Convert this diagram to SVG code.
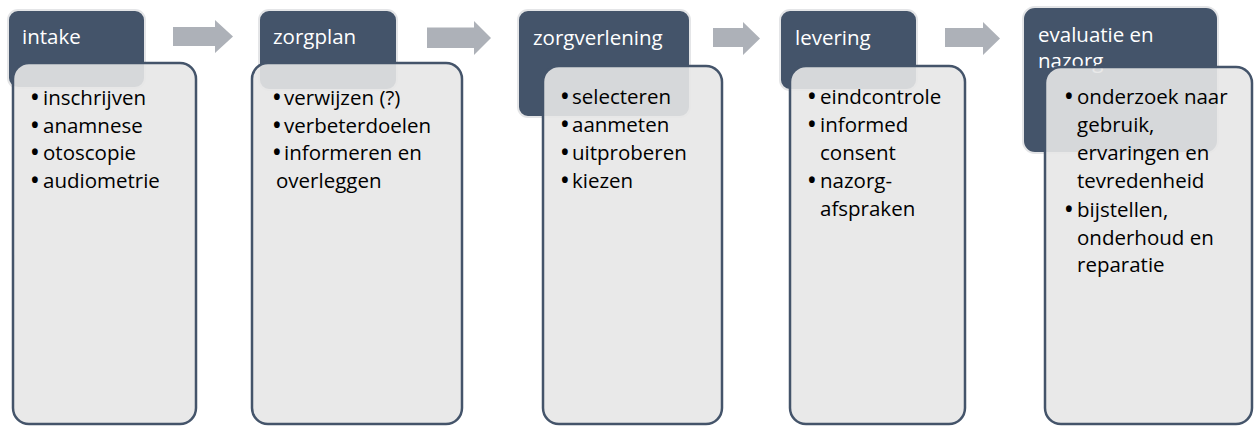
<svg xmlns="http://www.w3.org/2000/svg" width="1254" height="426" viewBox="0 0 1254 426">
  <style>
    .hdr { fill: #44546a; stroke: #e4e5e7; stroke-width: 2; }
    .box { fill: #e7e7e7; fill-opacity: 0.9; stroke: #44546a; stroke-width: 2.5; }
    .arr { fill: #adb1b8; }
    .ht { font-family: "Open Sans", "Liberation Sans", sans-serif; font-size: 20.5px; fill: #ffffff; }
    .bt { font-family: "Open Sans", "Liberation Sans", sans-serif; font-size: 20.5px; fill: #000000; }
    .bl { font-weight: 700; }
  </style>
  <rect width="1254" height="426" fill="#ffffff"/>
  <g id="connectors">
    <polygon class="arr" points="173,27 215,27 215,20 233,36.5 215,53 215,46 173,46"/>
    <polygon class="arr" points="427,27.5 474,27.5 474,21 491,38 474,55 474,48 427,48"/>
    <polygon class="arr" points="713,28 743,28 743,22 760,38.5 743,55 743,47 713,47"/>
    <polygon class="arr" points="945,28 983,28 983,22 1000,38.5 983,55 983,47 945,47"/>
  </g>
  <g id="node-intake">
    <rect class="hdr" x="8" y="10" width="137" height="78" rx="10"/>
    <text class="ht" x="22" y="44">intake</text>
    <rect class="box" x="13" y="63" width="183" height="361" rx="16"/>
    <text class="bt"><tspan class="bl" x="31" y="105">•</tspan><tspan x="43" y="105">inschrijven</tspan><tspan class="bl" x="31" y="133">•</tspan><tspan x="43" y="133">anamnese</tspan><tspan class="bl" x="31" y="160">•</tspan><tspan x="43" y="160">otoscopie</tspan><tspan class="bl" x="31" y="188">•</tspan><tspan x="43" y="188">audiometrie</tspan></text>
  </g>
  <g id="node-zorgplan">
    <rect class="hdr" x="259" y="10" width="138" height="80" rx="10"/>
    <text class="ht" x="273" y="44">zorgplan</text>
    <rect class="box" x="252" y="63" width="210" height="361" rx="16"/>
    <text class="bt"><tspan class="bl" x="273" y="105">•</tspan><tspan x="284" y="105">verwijzen (?)</tspan><tspan class="bl" x="273" y="133">•</tspan><tspan x="284" y="133">verbeterdoelen</tspan><tspan class="bl" x="273" y="160">•</tspan><tspan x="284" y="160">informeren en</tspan><tspan x="276" y="188">overleggen</tspan></text>
  </g>
  <g id="node-zorgverlening">
    <rect class="hdr" x="518" y="10" width="172" height="107" rx="10"/>
    <text class="ht" x="533" y="45">zorgverlening</text>
    <rect class="box" x="543" y="66" width="179" height="358" rx="16"/>
    <text class="bt"><tspan class="bl" x="561" y="104">•</tspan><tspan x="572" y="104">selecteren</tspan><tspan class="bl" x="561" y="132">•</tspan><tspan x="572" y="132">aanmeten</tspan><tspan class="bl" x="561" y="160">•</tspan><tspan x="572" y="160">uitproberen</tspan><tspan class="bl" x="561" y="188">•</tspan><tspan x="572" y="188">kiezen</tspan></text>
  </g>
  <g id="node-levering">
    <rect class="hdr" x="780" y="10" width="137" height="80" rx="10"/>
    <text class="ht" x="795" y="45">levering</text>
    <rect class="box" x="790" y="66" width="175" height="358" rx="16"/>
    <text class="bt"><tspan class="bl" x="808" y="104">•</tspan><tspan x="820" y="104">eindcontrole</tspan><tspan class="bl" x="808" y="132">•</tspan><tspan x="820" y="132">informed</tspan><tspan x="820" y="160">consent</tspan><tspan class="bl" x="808" y="188">•</tspan><tspan x="820" y="188">nazorg-</tspan><tspan x="820" y="216">afspraken</tspan></text>
  </g>
  <g id="node-evaluatie">
    <rect class="hdr" x="1023" y="7" width="195" height="146" rx="12"/>
    <text class="ht"><tspan x="1038" y="42">evaluatie en</tspan><tspan x="1038" y="68">nazorg</tspan></text>
    <rect class="box" x="1045" y="67" width="207" height="357" rx="16"/>
    <text class="bt"><tspan class="bl" x="1065" y="104">•</tspan><tspan x="1077" y="104">onderzoek naar</tspan><tspan x="1077" y="132">gebruik,</tspan><tspan x="1077" y="160">ervaringen en</tspan><tspan x="1077" y="188">tevredenheid</tspan><tspan class="bl" x="1065" y="217">•</tspan><tspan x="1077" y="217">bijstellen,</tspan><tspan x="1077" y="245">onderhoud en</tspan><tspan x="1077" y="272">reparatie</tspan></text>
  </g>
</svg>
